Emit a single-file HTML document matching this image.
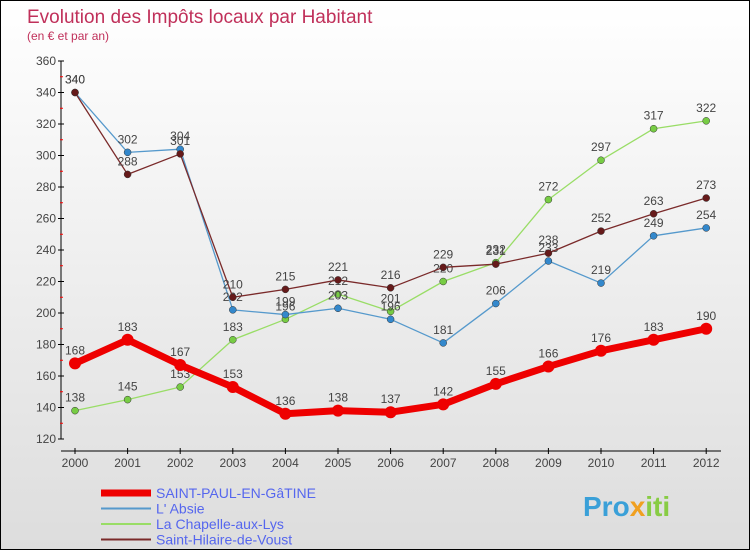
<!DOCTYPE html>
<html><head><meta charset="utf-8"><style>
body{margin:0;width:750px;height:550px;overflow:hidden;font-family:"Liberation Sans",sans-serif}
#wrap{position:relative;width:748px;height:548px;border:1px solid #000;background:linear-gradient(#fff,#ddd)}
</style></head><body>
<div id="wrap">
<svg id="c" width="748" height="548" style="position:absolute;left:0;top:0">
<text x="26" y="22" font-size="19" fill="#c0305a">Evolution des Impôts locaux par Habitant</text>
<text x="26" y="39" font-size="12" fill="#c0305a">(en € et par an)</text>
<g id="axes"></g><g id="series"></g><g id="legend"></g>
<text x="582" y="515" font-size="28" font-weight="bold" fill="#3aa0d8">Pro<tspan fill="#f0a020">x</tspan><tspan fill="#8c4">iti</tspan></text>
</svg></div>
<script>
const years=[2000,2001,2002,2003,2004,2005,2006,2007,2008,2009,2010,2011,2012];
const yTicks=[120,140,160,180,200,220,240,260,280,300,320,340,360];
const stPaul=[168,183,167,153,136,138,137,142,155,166,176,183,190];
const absie=[340,302,304,202,199,203,196,181,206,233,219,249,254];
const chapelle=[138,145,153,183,196,212,201,220,232,272,297,317,322];
const hilaire=[340,288,301,210,215,221,216,229,231,238,252,263,273];
const NS="http://www.w3.org/2000/svg";
const X=i=>74+i*52.6, Y=v=>438-(v-120)*1.575;
function mk(t,a,p){const e=document.createElementNS(NS,t);for(const k in a)e.setAttribute(k,a[k]);p.appendChild(e);return e;}
const ax=document.getElementById('axes');
const yl=mk('line',{x1:60,y1:Y(360),x2:60,y2:Y(120),stroke:'#000'},ax);


yTicks.forEach((v,i)=>{
 mk('line',{x1:57,x2:63,y1:Y(v),y2:Y(v),stroke:'#000'},ax);
 if(i<yTicks.length-1)mk('line',{x1:59,x2:62,y1:Y(v+10),y2:Y(v+10),stroke:'#f00'},ax);
 const t=mk('text',{x:55,y:Y(v)+4,'font-size':12,fill:'#444','text-anchor':'end'},ax);t.textContent=v;
 
 
});
const xl=mk('line',{x1:60,y1:Y(120)+12,x2:720,y2:Y(120)+12,stroke:'#000'},ax);


years.forEach((y,i)=>{
 mk('line',{x1:X(i),x2:X(i),y1:Y(120)+9,y2:Y(120)+15,stroke:'#000'},ax);
 const t=mk('text',{x:X(i),y:Y(120)+28,'font-size':12,fill:'#444','text-anchor':'middle'},ax);t.textContent=y;
 
 
});
const sg=document.getElementById('series');
const S=[[chapelle,'#99dd66','#77cc44',1.3,3.5,'chapelle'],[absie,'#5599cc','#3388cc',1.3,3.5,'absie'],[hilaire,'#7a2a2a','#661a1a',1.3,3.5,'hilaire'],[stPaul,'#ee0000','#ee0000',7,6,'saint-paul']];
S.forEach(([d,lc,dc,w,r,n])=>{
 const g=mk('g',{},sg);
 
 
 mk('polyline',{points:d.map((v,i)=>X(i)+','+Y(v)).join(' '),fill:'none',stroke:lc,'stroke-width':w,'stroke-linejoin':'round'},g);
 d.forEach((v,i)=>{
  const c=mk('circle',{cx:X(i),cy:Y(v),r:r,fill:dc,stroke:'#333','stroke-width':n=='saint-paul'?0:0.5},g);
  
  
  const t=mk('text',{x:X(i),y:Y(v)-9,'font-size':12,fill:'#444','text-anchor':'middle'},g);t.textContent=v;
  
  
 });
});
const lg=document.getElementById('legend');
[['SAINT-PAUL-EN-GâTINE','#ee0000',7],["L' Absie",'#5599cc',2],['La Chapelle-aux-Lys','#99dd66',2],['Saint-Hilaire-de-Voust','#7a2a2a',2]].forEach(([n,c,w],i)=>{
 const y=492+i*15.5;
 const g=mk('g',{},lg);
 
 
 mk('line',{x1:100,x2:150,y1:y,y2:y,stroke:c,'stroke-width':w},g);
 const t=mk('text',{x:155,y:y+5,'font-size':14,fill:'#5566ee'},g);t.textContent=n;
});
</script></body></html>
